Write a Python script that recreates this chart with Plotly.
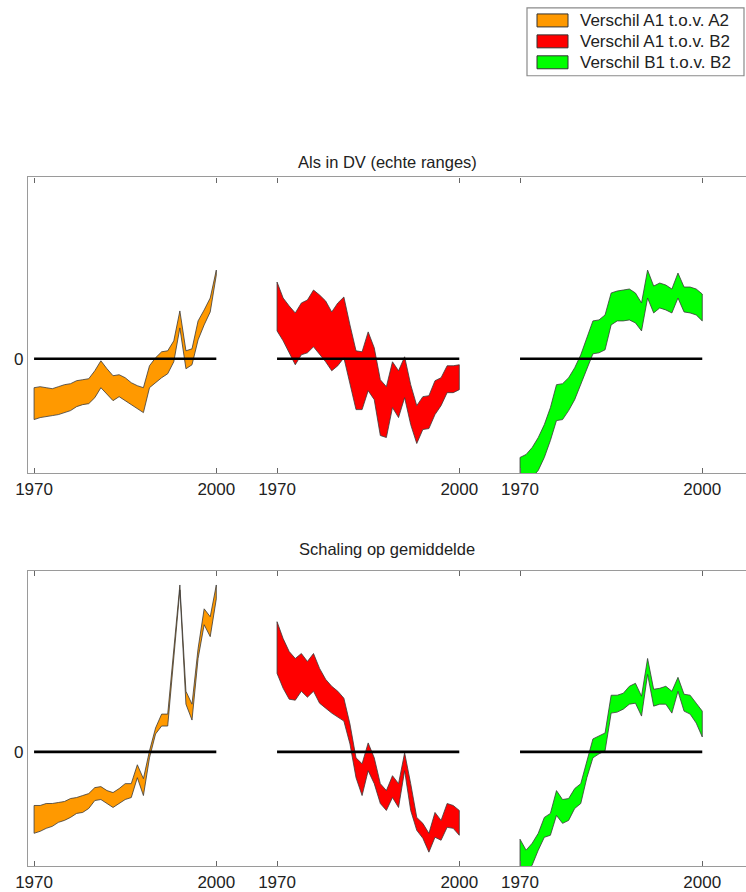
import plotly.graph_objects as go

years = list(range(1970, 2001))
segment_offset = [0, 40, 80]  # horizontal placement of the three comparisons

names = ["Verschil A1 t.o.v. A2", "Verschil A1 t.o.v. B2", "Verschil B1 t.o.v. B2"]
colors = ["#FF9900", "#FF0000", "#00FF00"]
titles = ["Als in DV (echte ranges)", "Schaling op gemiddelde"]

# --- Panel 1: Als in DV (echte ranges) ---
a1a2_top_hi = [-29, -28, -29, -30, -28, -26, -25, -22, -21, -20, -12, -2, -10, -17, -16,
               -19, -24, -27, -29, -7, 1, 7, 8, 18, 48, 8, 10, 38, 49, 61, 89]
a1a2_top_lo = [-61, -59, -58, -57, -56, -54, -52, -48, -46, -45, -39, -29, -36, -42, -38,
               -42, -46, -50, -54, -29, -24, -19, -15, -3, 31, -10, -6, 19, 34, 47, 84]
a1b2_top_hi = [77, 61, 53, 46, 56, 59, 69, 64, 58, 47, 56, 62, 34, 8, 7,
               27, 11, -21, -28, -3, -12, 2, -26, -47, -38, -37, -22, -19, -7, -7, -6]
a1b2_top_lo = [28, 18, 6, -6, 4, 6, 12, 4, -3, -12, -7, 1, -26, -51, -51,
               -32, -41, -77, -79, -49, -59, -39, -66, -85, -71, -70, -56, -47, -34, -34, -31]
b1b2_top_hi = [-99, -96, -89, -79, -66, -49, -26, -25, -19, -9, 4, 21, 38, 39, 44,
               66, 68, 69, 70, 66, 56, 89, 73, 76, 74, 70, 86, 72, 72, 70, 65]
b1b2_top_lo = [-129, -124, -119, -112, -99, -82, -62, -61, -52, -41, -26, -11, 5, 6, 9,
               34, 38, 38, 39, 36, 28, 61, 46, 51, 49, 46, 61, 47, 46, 44, 38]

# --- Panel 2: Schaling op gemiddelde ---
a1a2_bot_hi = [-54, -54, -52, -52, -51, -50, -47, -46, -44, -42, -36, -35, -39, -41, -37,
               -32, -32, -13, -27, 1, 24, 38, 38, 104, 168, 61, 48, 104, 144, 136, 168]
a1a2_bot_lo = [-82, -80, -77, -75, -71, -69, -66, -62, -61, -57, -49, -48, -52, -56, -52,
               -48, -46, -26, -44, -6, 18, 26, 26, 94, 163, 48, 32, 94, 128, 116, 154]
a1b2_bot_hi = [131, 114, 101, 94, 99, 91, 99, 84, 73, 66, 61, 54, 28, -6, -12,
               9, -6, -32, -39, -24, -32, -1, -32, -66, -72, -82, -61, -69, -52, -54, -59]
a1b2_bot_lo = [79, 64, 53, 52, 61, 55, 61, 49, 44, 39, 35, 31, 8, -26, -44,
               -19, -32, -52, -59, -46, -56, -19, -59, -79, -87, -101, -86, -89, -76, -77, -84]
b1b2_bot_hi = [-88, -99, -92, -82, -66, -62, -39, -48, -47, -37, -32, -9, 13, 16, 19,
               57, 57, 59, 66, 69, 56, 94, 63, 64, 66, 61, 75, 58, 57, 49, 41]
b1b2_bot_lo = [-126, -122, -114, -99, -86, -84, -64, -72, -69, -57, -52, -26, -6, -2, 1,
               39, 40, 43, 48, 49, 36, 78, 46, 48, 48, 39, 61, 41, 38, 29, 15]

panels = [
    [(a1a2_top_hi, a1a2_top_lo), (a1b2_top_hi, a1b2_top_lo), (b1b2_top_hi, b1b2_top_lo)],
    [(a1a2_bot_hi, a1a2_bot_lo), (a1b2_bot_hi, a1b2_bot_lo), (b1b2_bot_hi, b1b2_bot_lo)],
]

W, H = 746, 892
ML = 28
FONT = "Liberation Sans, Arial, sans-serif"
fig = go.Figure()

# pixel rows of each panel frame (top, bottom) and title position
frames = [(178, 475, 163), (573, 869, 551)]
y_range = [-115, 182]
x_range = [1969.0, 2087.2]

tickvals, ticktext = [], []
for off in segment_offset:
    tickvals += [1970 + off, 2000 + off]
    ticktext += ["1970", "2000"]

for p, bands in enumerate(panels):
    xa = "x" if p == 0 else "x2"
    ya = "y" if p == 0 else "y2"
    for k, (hi, lo) in enumerate(bands):
        off = segment_offset[k]
        xs = [y + off for y in years] + [y + off for y in years[::-1]] + [years[0] + off]
        ys = list(hi) + list(lo[::-1]) + [hi[0]]
        fig.add_trace(go.Scatter(
            x=xs, y=ys, mode="lines", fill="toself",
            fillcolor=colors[k], line=dict(color="#3a3a3a", width=0.8),
            name=names[k], showlegend=False,
            xaxis=xa, yaxis=ya, hoverinfo="skip"))
        # zero reference line for this comparison
        fig.add_trace(go.Scatter(
            x=[years[0] + off, years[-1] + off], y=[0, 0], mode="lines",
            line=dict(color="black", width=2.6), showlegend=False,
            xaxis=xa, yaxis=ya, hoverinfo="skip"))

axis_common = dict(showgrid=False, zeroline=False, showline=True, linecolor="#9a9a9a",
                   linewidth=1.2)
for p, (top, bot, ty) in enumerate(frames):
    dom = [(H - bot) / H, (H - top) / H]
    xkey = "xaxis" if p == 0 else "xaxis2"
    ykey = "yaxis" if p == 0 else "yaxis2"
    fig.update_layout(**{
        xkey: dict(range=x_range, tickvals=tickvals, ticktext=ticktext,
                   ticks="inside", ticklen=5, tickcolor="#666", tickwidth=1,
                   mirror="ticks", anchor="y" if p == 0 else "y2",
                   tickfont=dict(family=FONT, size=17, color="#222"),
                   **axis_common),
        ykey: dict(range=y_range, domain=dom, tickvals=[0], ticktext=["0"], ticks="",
                   anchor="x" if p == 0 else "x2",
                   tickfont=dict(family=FONT, size=17, color="#222"),
                   **axis_common),
    })
    fig.add_annotation(text=titles[p], xref="paper", yref="paper",
                       x=0.5, y=(H - ty) / H, xanchor="center", yanchor="middle",
                       showarrow=False,
                       font=dict(family=FONT, size=16.5, color="#222"))


# Legend box drawn in pixel units, converted to paper coordinates
def px_x(px):
    return (px - ML) / (W - ML)


def px_y(py):
    return (H - py) / H


fig.add_shape(type="rect", xref="paper", yref="paper",
              x0=px_x(527), x1=px_x(744), y0=px_y(76), y1=px_y(8),
              line=dict(color="#8a8a8a", width=1.2), fillcolor="white")
row_centers = [20.5, 41.5, 62.5]
for k, name in enumerate(names):
    cy = row_centers[k]
    fig.add_shape(type="rect", xref="paper", yref="paper",
                  x0=px_x(537), x1=px_x(568), y0=px_y(cy + 6.5), y1=px_y(cy - 6.5),
                  line=dict(color="#333", width=1), fillcolor=colors[k])
    fig.add_annotation(text=name, xref="paper", yref="paper",
                       x=px_x(578), y=px_y(cy), xanchor="left", yanchor="middle",
                       showarrow=False,
                       font=dict(family=FONT, size=17, color="#222"))

fig.update_layout(
    width=W, height=H,
    margin=dict(l=ML, r=0, t=0, b=0),
    plot_bgcolor="white", paper_bgcolor="white",
    showlegend=False,
)

fig.write_html("out.html")
